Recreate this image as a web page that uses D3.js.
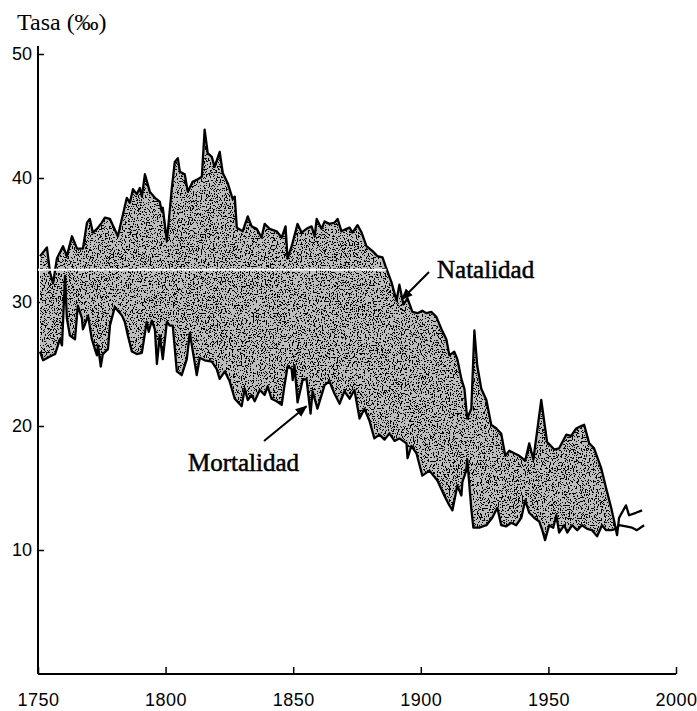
<!DOCTYPE html>
<html>
<head>
<meta charset="utf-8">
<script src="https://cdn.jsdelivr.net/npm/d3@7"></script>
<style>
  body { margin: 0; background: #fff; }
  svg { display: block; }
</style>
</head>
<body>
<svg width="697" height="711"></svg>
<script>
// birth rate (Natalidad), per thousand
var birthYears = [1750.8, 1753.5, 1754.7, 1755.9, 1757.4, 1759.8, 1761.3, 1763.3, 1765.3, 1767.6,
    1769.2, 1770.3, 1771.5, 1773.1, 1775.0, 1776.2, 1778.2, 1781.3, 1784.8, 1786.0,
    1787.2, 1788.7, 1789.9, 1790.7, 1791.9, 1793.8, 1795.8, 1797.7, 1798.5, 1798.9,
    1800.5, 1802.4, 1803.6, 1804.8, 1805.6, 1807.5, 1808.7, 1810.6, 1812.6, 1814.2,
    1815.3, 1816.5, 1818.1, 1819.2, 1821.2, 1822.4, 1824.3, 1826.3, 1827.1, 1827.9,
    1830.2, 1832.2, 1833.7, 1835.7, 1837.6, 1838.8, 1840.8, 1843.5, 1845.5, 1847.0,
    1847.8, 1849.4, 1851.7, 1853.3, 1855.2, 1857.2, 1858.4, 1859.2, 1861.1, 1862.3,
    1864.2, 1866.2, 1867.4, 1868.9, 1870.9, 1872.1, 1873.2, 1875.2, 1876.8, 1878.7,
    1881.1, 1883.0, 1885.0, 1886.5, 1888.5, 1890.5, 1891.6, 1893.2, 1894.8, 1896.7,
    1898.7, 1900.6, 1902.2, 1904.1, 1906.1, 1908.1, 1910.0, 1911.2, 1913.1, 1914.3,
    1915.9, 1917.1, 1918.2, 1919.8, 1921.0, 1922.1, 1923.7, 1925.7, 1927.6, 1929.6,
    1931.5, 1933.1, 1934.7, 1936.6, 1938.6, 1940.9, 1942.5, 1944.1, 1945.6, 1947.2,
    1948.4, 1949.5, 1952.3, 1954.2, 1957.0, 1958.9, 1960.9, 1962.8, 1964.0, 1966.0,
    1967.9, 1970.7, 1972.6, 1974.6, 1975.7, 1976.9, 1977.7, 1980.4, 1981.6, 1984.3,
    1986.7];
var birthRates = [33.7, 34.4, 32.4, 31.5, 33.5, 34.5, 33.7, 35.3, 34.3, 34.3,
    36.4, 36.7, 35.6, 35.9, 36.4, 36.8, 36.7, 35.3, 38.4, 38.0,
    39.1, 38.7, 39.2, 38.5, 40.3, 38.9, 38.4, 38.1, 37.3, 37.6,
    34.9, 39.1, 41.3, 41.6, 40.5, 40.3, 38.9, 39.7, 39.9, 40.1,
    43.9, 42.0, 41.7, 40.9, 42.1, 40.4, 39.6, 38.3, 38.5, 36.0,
    35.7, 36.9, 36.1, 35.9, 35.2, 36.3, 35.9, 35.7, 35.2, 36.1,
    33.5, 34.5, 36.3, 35.6, 35.9, 36.1, 35.3, 36.7, 35.9, 36.5,
    36.3, 36.4, 36.7, 35.7, 35.9, 36.0, 35.6, 36.2, 35.6, 34.5,
    34.1, 33.7, 33.6, 32.7, 31.6, 30.1, 31.4, 29.8, 30.3, 29.2,
    29.1, 29.3, 29.1, 29.2, 28.8, 27.8, 27.0, 25.7, 26.0, 25.4,
    23.8, 23.0, 20.6, 21.4, 27.7, 24.9, 23.0, 22.1, 20.1, 19.8,
    19.4, 17.6, 18.0, 17.8, 17.6, 17.2, 18.6, 17.3, 19.6, 22.1,
    20.3, 18.7, 18.1, 18.2, 19.3, 19.2, 19.8, 20.0, 20.1, 18.6,
    18.2, 16.6, 15.0, 13.4, 12.4, 11.2, 12.6, 13.6, 12.8, 13.0,
    13.2];

// death rate (Mortalidad), per thousand
var deathYears = [1750.8, 1752.0, 1754.7, 1756.7, 1758.6, 1759.4, 1760.6, 1761.3, 1762.5, 1764.5,
    1765.6, 1767.2, 1767.6, 1768.4, 1769.6, 1771.1, 1772.3, 1773.1, 1773.5, 1774.6,
    1775.4, 1777.4, 1778.2, 1780.1, 1781.3, 1782.9, 1784.0, 1785.2, 1786.8, 1788.7,
    1790.7, 1792.6, 1793.4, 1794.6, 1795.8, 1796.6, 1797.7, 1798.9, 1800.5, 1801.6,
    1802.8, 1804.4, 1806.3, 1808.3, 1809.5, 1810.6, 1812.2, 1813.4, 1815.3, 1818.1,
    1820.0, 1821.2, 1823.2, 1825.1, 1827.1, 1829.8, 1831.0, 1832.2, 1833.7, 1834.9,
    1836.9, 1838.8, 1840.0, 1841.5, 1843.5, 1845.5, 1846.6, 1847.8, 1849.4, 1849.8,
    1850.5, 1851.7, 1853.7, 1855.2, 1856.8, 1857.6, 1859.5, 1862.3, 1864.2, 1866.2,
    1868.2, 1870.1, 1872.1, 1874.0, 1876.0, 1877.9, 1879.9, 1881.8, 1883.8, 1885.8,
    1887.7, 1889.7, 1891.6, 1894.4, 1894.8, 1896.3, 1898.3, 1900.6, 1903.4, 1906.5,
    1909.2, 1911.2, 1912.4, 1914.3, 1915.9, 1916.3, 1917.8, 1918.2, 1919.8, 1920.6,
    1922.9, 1925.7, 1928.0, 1930.0, 1931.5, 1933.5, 1935.4, 1937.4, 1939.4, 1940.9,
    1942.5, 1944.4, 1946.4, 1947.6, 1948.7, 1950.3, 1951.9, 1953.1, 1954.2, 1956.2,
    1957.4, 1959.3, 1961.3, 1963.2, 1965.2, 1967.1, 1969.1, 1971.0, 1972.6, 1974.6,
    1976.5, 1977.7, 1980.4, 1982.8, 1984.7, 1987.5];
var deathRates = [26.0, 25.3, 25.6, 25.8, 27.0, 26.5, 32.1, 28.7, 27.3, 27.0,
    29.7, 28.7, 27.8, 28.2, 28.9, 27.0, 26.2, 25.7, 26.5, 24.8,
    25.8, 26.2, 28.1, 29.6, 29.3, 28.9, 28.4, 27.3, 26.0, 25.8,
    25.9, 28.4, 27.6, 28.5, 27.8, 25.0, 27.3, 25.4, 28.4, 28.1,
    28.1, 24.4, 24.1, 25.4, 27.5, 26.1, 24.1, 25.5, 25.3, 25.2,
    24.6, 23.8, 24.4, 23.6, 22.2, 21.6, 23.0, 22.1, 22.5, 22.0,
    22.9, 22.5, 23.2, 22.2, 22.0, 21.7, 23.3, 24.8, 24.6, 23.7,
    24.9, 21.9, 23.7, 23.8, 21.0, 22.8, 21.4, 23.3, 23.6, 22.6,
    21.8, 22.8, 22.2, 22.9, 20.6, 21.4, 20.4, 19.0, 19.3, 18.9,
    19.4, 18.8, 19.0, 18.6, 17.4, 18.4, 17.8, 16.0, 16.4, 15.6,
    14.4, 13.6, 13.2, 15.2, 14.4, 15.5, 16.4, 17.3, 13.3, 11.8,
    11.8, 12.0, 12.6, 13.4, 12.0, 11.9, 12.2, 12.0, 12.6, 14.0,
    13.0, 12.6, 12.3, 11.6, 10.8, 12.0, 11.8, 12.8, 11.4, 12.0,
    11.4, 12.0, 11.6, 12.0, 11.7, 11.6, 11.1, 12.0, 11.6, 11.6,
    11.7, 12.0, 11.9, 11.8, 11.6, 12.0];

var xTicks = [1750, 1800, 1850, 1900, 1950, 2000];
var yTicks = [10, 20, 30, 40, 50];
var fillEndYear = 1977;   // birth falls below death here
var scanGapRate = 32.6;   // white streak across the shading

var svg = d3.select("svg");
var x = d3.scaleLinear().domain([1750, 2000]).range([38, 676]);
var y = d3.scaleLinear().domain([0, 50]).range([674, 54]);

var birth = birthYears.map(function (d, i) { return [d, birthRates[i]]; });
var death = deathYears.map(function (d, i) { return [d, deathRates[i]]; });

//stipple texture for the band
var defs = svg.append("defs");
var f = defs.append("filter").attr("id", "stipple")
    .attr("x", 0).attr("y", 0).attr("width", 1).attr("height", 1);
f.append("feTurbulence").attr("type", "fractalNoise")
    .attr("baseFrequency", 0.75).attr("numOctaves", 2).attr("seed", 3).attr("result", "noise");
f.append("feColorMatrix").attr("in", "noise").attr("type", "matrix")
    .attr("values", "0 0 0 0 0  0 0 0 0 0  0 0 0 0 0  1.6 0 0 0 -0.3").attr("result", "a");
f.append("feComponentTransfer").attr("in", "a").attr("result", "dots")
    .append("feFuncA").attr("type", "discrete").attr("tableValues", "0 0 0 0 0 1 1 1");
f.append("feComposite").attr("in", "dots").attr("in2", "SourceGraphic").attr("operator", "in");

defs.append("marker")
    .attr("id", "arrow").attr("viewBox", "0 0 10 10")
    .attr("refX", 9).attr("refY", 5)
    .attr("markerWidth", 6).attr("markerHeight", 6)
    .attr("orient", "auto")
    .append("path").attr("d", "M0,1L10,5L0,9Z").attr("fill", "#000");

// axes
var yAxis = svg.append("g")
    .attr("transform", "translate(" + x(1750) + ",0)")
    .call(d3.axisLeft(y).tickValues(yTicks).tickSizeInner(-6).tickSizeOuter(0).tickPadding(6));
yAxis.select(".domain").remove();
yAxis.append("line")
    .attr("y1", y(0)).attr("y2", y(50) - 8)
    .attr("stroke", "#000").attr("stroke-width", 2);

var xAxis = svg.append("g")
    .attr("transform", "translate(0," + y(0) + ")")
    .call(d3.axisBottom(x).tickValues(xTicks).tickFormat(d3.format("d"))
        .tickSizeInner(-7).tickSizeOuter(0).tickPadding(17));
xAxis.select(".domain").remove();
xAxis.append("line")
    .attr("x1", x(1750)).attr("x2", x(2000))
    .attr("stroke", "#000").attr("stroke-width", 2);

svg.selectAll(".tick line").attr("stroke", "#000").attr("stroke-width", 1.5);
svg.selectAll(".tick text")
    .attr("font-family", "'Liberation Sans', Arial, sans-serif")
    .attr("font-size", "18px")
    .attr("fill", "#000");
xAxis.selectAll(".tick text").attr("dy", "0.85em").attr("letter-spacing", "0.5px");

// shaded band between the two rates
var band = birth.filter(function (d) { return d[0] <= fillEndYear; })
    .concat(death.filter(function (d) { return d[0] <= fillEndYear; }).reverse());
var bandPath = d3.line().x(function (d) { return x(d[0]); }).y(function (d) { return y(d[1]); });

svg.append("path")
    .attr("d", bandPath(band) + "Z")
    .attr("fill", "#bdbdbd");
svg.append("path")
    .attr("d", bandPath(band) + "Z")
    .attr("fill", "#1a1a1a")
    .attr("filter", "url(#stipple)");

var line = d3.line()
    .x(function (d) { return x(d[0]); })
    .y(function (d) { return y(d[1]); });

svg.append("path").datum(birth)
    .attr("d", line)
    .attr("fill", "none").attr("stroke", "#000").attr("stroke-width", 2.3)
    .attr("stroke-linejoin", "round");
svg.append("path").datum(death)
    .attr("d", line)
    .attr("fill", "none").attr("stroke", "#000").attr("stroke-width", 2.3)
    .attr("stroke-linejoin", "round");

// scan streak
svg.append("line")
    .attr("x1", x(1750)).attr("x2", x(1886.5))
    .attr("y1", y(scanGapRate)).attr("y2", y(scanGapRate))
    .attr("stroke", "#fff").attr("stroke-width", 2);

// labels
svg.append("text")
    .attr("x", 17).attr("y", 30)
    .attr("font-family", "'Liberation Serif', 'Times New Roman', serif")
    .attr("font-size", "24px")
    .text("Tasa (‰)");

svg.append("line")
    .attr("x1", 429).attr("y1", 272).attr("x2", x(1892.5)).attr("y2", y(30.2))
    .attr("stroke", "#000").attr("stroke-width", 2).attr("marker-end", "url(#arrow)");
svg.append("text")
    .attr("x", 437).attr("y", 278)
    .attr("font-family", "'Liberation Serif', 'Times New Roman', serif")
    .attr("font-size", "25px").attr("stroke", "#000").attr("stroke-width", 0.5)
    .text("Natalidad");

svg.append("line")
    .attr("x1", 264).attr("y1", 441).attr("x2", x(1855.2)).attr("y2", y(21.6))
    .attr("stroke", "#000").attr("stroke-width", 2).attr("marker-end", "url(#arrow)");
svg.append("text")
    .attr("x", 188).attr("y", 471)
    .attr("font-family", "'Liberation Serif', 'Times New Roman', serif")
    .attr("font-size", "25px").attr("stroke", "#000").attr("stroke-width", 0.5)
    .text("Mortalidad");
</script>
</body>
</html>
